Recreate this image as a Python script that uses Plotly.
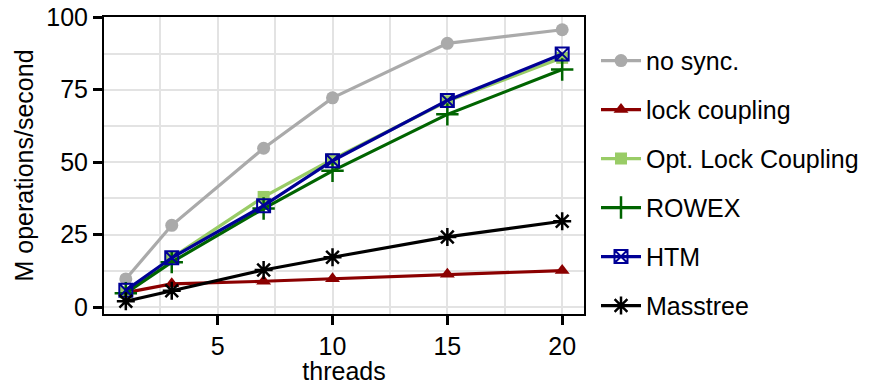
import plotly.graph_objects as go

threads = [1, 3, 7, 10, 15, 20]
no_sync = [9.7, 28.2, 54.8, 72.2, 91.0, 95.7]
lock_coupling = [5.0, 8.0, 8.9, 9.8, 11.3, 12.6]
olc = [5.0, 17.0, 38.0, 51.0, 71.0, 86.0]
rowex = [4.8, 15.5, 34.0, 47.0, 66.5, 82.0]
htm = [5.8, 17.0, 35.0, 50.5, 71.3, 87.3]
masstree = [2.0, 5.6, 12.8, 17.2, 24.2, 29.6]

series = [
    ("no sync.", no_sync, "#aaaaaa", "circle", 13, 0),
    ("lock coupling", lock_coupling, "#8b0000", "triangle-up", 13, 0),
    ("Opt. Lock Coupling", olc, "#99cc66", "square", 12, 0),
    ("ROWEX", rowex, "#006400", "cross-thin-open", 16, 2.5),
    ("HTM", htm, "#000096", "square-x-open", 13, 2),
    ("Masstree", masstree, "#000000", "asterisk-open", 15, 2.5),
]

fig = go.Figure()
for i, (name, vals, col, sym, size, lw) in enumerate(series):
    fig.add_trace(go.Scatter(
        x=threads, y=vals, name=name, mode="lines+markers",
        legendgroup=f"g{i}",
        line=dict(color=col, width=3.2),
        marker=dict(symbol=sym, size=size, color=col,
                    line=dict(color=col, width=lw)),
    ))

font = "Liberation Sans, Arial, sans-serif"
axis_common = dict(
    showline=True, linecolor="black", linewidth=2, mirror=True,
    ticks="outside", ticklen=9, tickwidth=3, tickcolor="black",
    showgrid=True, gridcolor="#e3e3e3", gridwidth=1.5,
    zeroline=False, automargin=False,
    tickfont=dict(family=font, size=25, color="black"),
)

fig.update_layout(
    width=871, height=385,
    margin=dict(l=104, r=287, t=17, b=71, autoexpand=False),
    paper_bgcolor="white", plot_bgcolor="white",
    font=dict(family=font, size=24, color="black"),
    xaxis=dict(range=[0.05, 20.95], tickvals=[5, 10, 15, 20],
               minor=dict(tickvals=[2.5, 7.5, 12.5, 17.5], showgrid=True,
                          gridcolor="#e3e3e3", gridwidth=1.5, ticks=""),
               title=dict(text="threads", font=dict(size=25), standoff=6),
               **axis_common),
    yaxis=dict(range=[-2.4, 100.1], tickvals=[0, 25, 50, 75, 100],
               minor=dict(tickvals=[12.5, 37.5, 62.5, 87.5], showgrid=True,
                          gridcolor="#e3e3e3", gridwidth=1.5, ticks=""),
               title=dict(text="M operations/second", font=dict(size=25), standoff=6),
               **axis_common),
    legend=dict(x=1.025, y=0.44, xanchor="left", yanchor="middle",
                font=dict(size=25), tracegroupgap=13.5,
                bgcolor="rgba(0,0,0,0)", itemwidth=40),
)

fig.write_html("out.html", post_script="document.body.style.margin='0';",
               config={"displayModeBar": False})
